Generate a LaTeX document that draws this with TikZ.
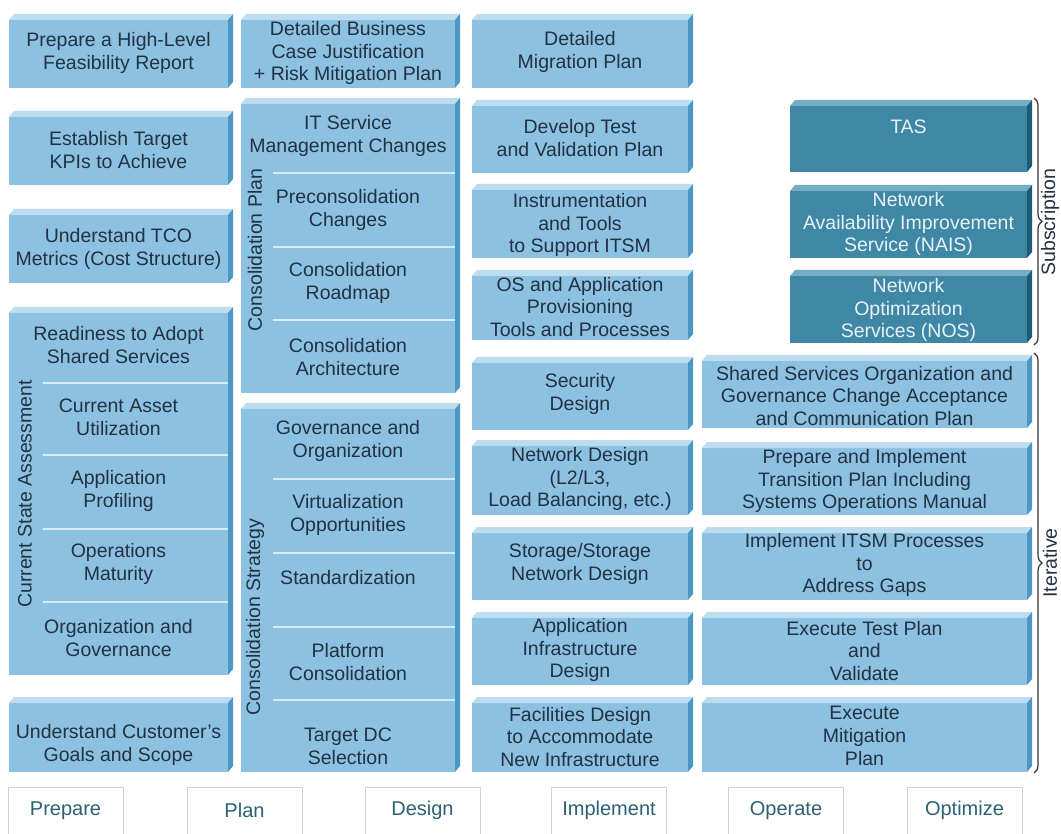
\documentclass[tikz,border=0pt]{standalone}
\usepackage{fontspec}
\setmainfont{Liberation Sans}
\usetikzlibrary{fit,decorations.pathreplacing}
\definecolor{face}{HTML}{8CC1E1}
\definecolor{facetop}{HTML}{BCDCEF}
\definecolor{faceside}{HTML}{4C98C5}
\definecolor{dface}{HTML}{3E88A5}
\definecolor{dtop}{HTML}{74ADC4}
\definecolor{dside}{HTML}{1D5C76}
\definecolor{txt}{HTML}{223242}
\definecolor{dtext}{HTML}{E8F2F6}
\definecolor{sepc}{HTML}{D6EBF7}
\definecolor{phase}{HTML}{2B6273}
\newcommand\bx[6][box]{\node[#1, fit={(#3,#4) (#5,#6)}] (#2) {};}
\newcommand\threed[3]{%
  \fill[#2] (#1.north west) -- ++(5,-6) -- ([shift={(5,-6)}]#1.north east) -- (#1.north east) -- cycle;
  \fill[#3] (#1.north east) -- ++(5,-6) -- ([shift={(5,-6)}]#1.south east) -- (#1.south east) -- cycle;}
\begin{document}
\begin{tikzpicture}[x=1pt,y=-1pt,
  every node/.style={inner sep=0pt, outer sep=0pt},
  box/.style={rectangle, fill=face},
  dbox/.style={rectangle, fill=dface},
  lbl/.style={align=center, text=txt, font=\fontsize{19.5}{22.8}\selectfont},
  dlbl/.style={lbl, text=dtext},
  vlbl/.style={lbl, rotate=90},
  sepline/.style={draw=sepc, line width=2.6pt},
  phasebox/.style={minimum width=115pt, minimum height=47pt, anchor=north},
  phasetext/.style={text=phase, font=\fontsize{20}{24}\selectfont},
  frame/.style={draw=black!18, line width=1pt},
  brc/.style={draw=black!80, line width=1.2pt, decorate, decoration={brace, amplitude=8pt}}
]
\fill[white] (0,0) rectangle (1061,834);
\useasboundingbox (0,0) rectangle (1061,834);

% ---------- column 1 : Prepare ----------
\bx{feas}{9}{20}{228}{88}
\bx{kpi}{9}{117}{228}{185}
\bx{tco}{9}{215}{228}{283}
\bx{csa}{9}{313}{228}{675}
\bx{cust}{9}{703}{228}{772}
% ---------- column 2 : Plan ----------
\bx{biz}{241}{20}{455}{88}
\bx{cplan}{241}{104}{455}{393}
\bx{cstrat}{241}{409}{455}{772}
% ---------- column 3 : Design / Implement ----------
\bx{mig}{472}{20}{688}{88}
\bx{test}{472}{106}{688}{173}
\bx{instr}{472}{190}{688}{258}
\bx{os}{472}{276}{688}{340}
\bx{sec}{472}{363}{688}{430}
\bx{net}{472}{446}{688}{515}
\bx{stor}{472}{533}{688}{600}
\bx{app}{472}{618}{688}{685}
\bx{fac}{472}{703}{688}{772}
% ---------- column 4 : Operate / Optimize ----------
\bx[dbox]{tas}{790}{106}{1027}{172}
\bx[dbox]{nais}{790}{191}{1027}{258}
\bx[dbox]{nos}{790}{276}{1027}{343}
\bx{shared}{702}{361}{1027}{428}
\bx{trans}{702}{448}{1027}{515}
\bx{itsm}{702}{533}{1027}{600}
\bx{exec}{702}{618}{1027}{685}
\bx{mitig}{702}{703}{1027}{772}

\foreach \n in {feas,kpi,tco,csa,cust,biz,cplan,cstrat,mig,test,instr,os,sec,net,stor,app,fac,shared,trans,itsm,exec,mitig}
  {\threed{\n}{facetop}{faceside}}
\foreach \n in {tas,nais,nos}
  {\threed{\n}{dtop}{dside}}

% separators inside grouped boxes
\foreach \y in {383,455,529,602} \draw[sepline] (43,\y) -- (csa.east |- 0,\y);
\foreach \y in {173,247,320} \draw[sepline] (273,\y) -- (cplan.east |- 0,\y);
\foreach \y in {479,553,627,700} \draw[sepline] (273,\y) -- (cstrat.east |- 0,\y);

% ---------- texts column 1 ----------
\node[lbl] (tfeas) at (118.5,53) {Prepare a High-Level\\Feasibility Report};
\node[lbl] (tkpi) at (118.5,150) {Establish Target\\KPIs to Achieve};
\node[lbl] (ttco) at (118.5,249) {Understand TCO\\Metrics (Cost Structure)};
\node[lbl] (tready) at (118.5,345) {Readiness to Adopt\\Shared Services};
\node[lbl] (tasset) at (118.5,417) {Current Asset\\Utilization};
\node[lbl] (tprof) at (118.5,491) {Application\\Profiling};
\node[lbl] (tmat) at (118.5,564) {Operations\\Maturity};
\node[lbl] (tgov1) at (118.5,638) {Organization and\\Governance};
\node[lbl] (tcust) at (118.5,745) {Understand Customer's\\Goals and Scope};
\node[vlbl] (lcsa) at (25,494) {Current State Assessment};

% ---------- texts column 2 ----------
\node[lbl] (tbiz) at (348,53) {Detailed Business\\Case Justification\\+ Risk Mitigation Plan};
\node[lbl] (titsmc) at (348,136) {IT Service\\Management Changes};
\node[lbl] (tprec) at (348,210) {Preconsolidation\\Changes};
\node[lbl] (troad) at (348,283) {Consolidation\\Roadmap};
\node[lbl] (tarch) at (348,357) {Consolidation\\Architecture};
\node[vlbl] (lcplan) at (255,250) {Consolidation Plan};
\node[lbl] (tgov2) at (348,441) {Governance and\\Organization};
\node[lbl] (tvirt) at (348,515) {Virtualization\\Opportunities};
\node[lbl] (tstd) at (348,578) {Standardization};
\node[lbl] (tplat) at (348,662) {Platform\\Consolidation};
\node[lbl] (tdc) at (348,746) {Target DC\\Selection};
\node[vlbl] (lcstrat) at (255,617) {Consolidation Strategy};

% ---------- texts column 3 ----------
\node[lbl] (tmig) at (580,52) {Detailed\\Migration Plan};
\node[lbl] (ttest) at (580,138) {Develop Test\\and Validation Plan};
\node[lbl] (tinstr) at (580,225) {Instrumentation\\and Tools\\to Support ITSM};
\node[lbl] (tos) at (580,307) {OS and Application\\Provisioning\\Tools and Processes};
\node[lbl] (tsec) at (580,394) {Security\\Design};
\node[lbl] (tnet) at (580,479) {Network Design\\(L2/L3,\\Load Balancing, etc.)};
\node[lbl] (tstor) at (580,564) {Storage/Storage\\Network Design};
\node[lbl] (tapp) at (580,650) {Application\\Infrastructure\\Design};
\node[lbl] (tfac) at (580,737) {Facilities Design\\to Accommodate\\New Infrastructure};

% ---------- texts column 4 ----------
\node[dlbl] (ttas) at (908.5,127) {TAS};
\node[dlbl] (tnais) at (908.5,224) {Network\\Availability Improvement\\Service (NAIS)};
\node[dlbl] (tnos) at (908.5,310) {Network\\Optimization\\Services (NOS)};
\node[lbl] (tshared) at (864.5,396) {Shared Services Organization and\\Governance Change Acceptance\\and Communication Plan};
\node[lbl] (ttrans) at (864.5,481) {Prepare and Implement\\Transition Plan Including\\Systems Operations Manual};
\node[lbl] (titsm) at (864.5,565) {Implement ITSM Processes\\to\\Address Gaps};
\node[lbl] (texec) at (864.5,651) {Execute Test Plan\\and\\Validate};
\node[lbl] (tmitig) at (864.5,736) {Execute\\Mitigation\\Plan};

% ---------- braces ----------
\coordinate (sb1) at (1034,98);
\coordinate (sb2) at (1034,345);
\coordinate (ib1) at (1034,353);
\coordinate (ib2) at (1034,773);
\draw[brc] (sb1) -- (sb2);
\draw[brc] (ib1) -- (ib2);
\node[vlbl] (lsub) at (1050,222) {Subscription};
\node[vlbl] (liter) at (1050,563) {Iterative};

% ---------- phases ----------
\node[phasebox, phasetext] (pprep) at (65.5,787) {Prepare};
\node[phasebox, phasetext] (pplan) at (244.5,787) {Plan};
\node[phasebox, phasetext] (pdes) at (422.5,787) {Design};
\node[phasebox, phasetext] (pimp) at (609,787) {Implement};
\node[phasebox, phasetext] (pop) at (786,787) {Operate};
\node[phasebox, phasetext] (popt) at (964.5,787) {Optimize};
\foreach \p in {pprep,pplan,pdes,pimp,pop,popt}
  \draw[frame] (\p.south west) -- (\p.north west) -- (\p.north east) -- (\p.south east);
\end{tikzpicture}
\end{document}
